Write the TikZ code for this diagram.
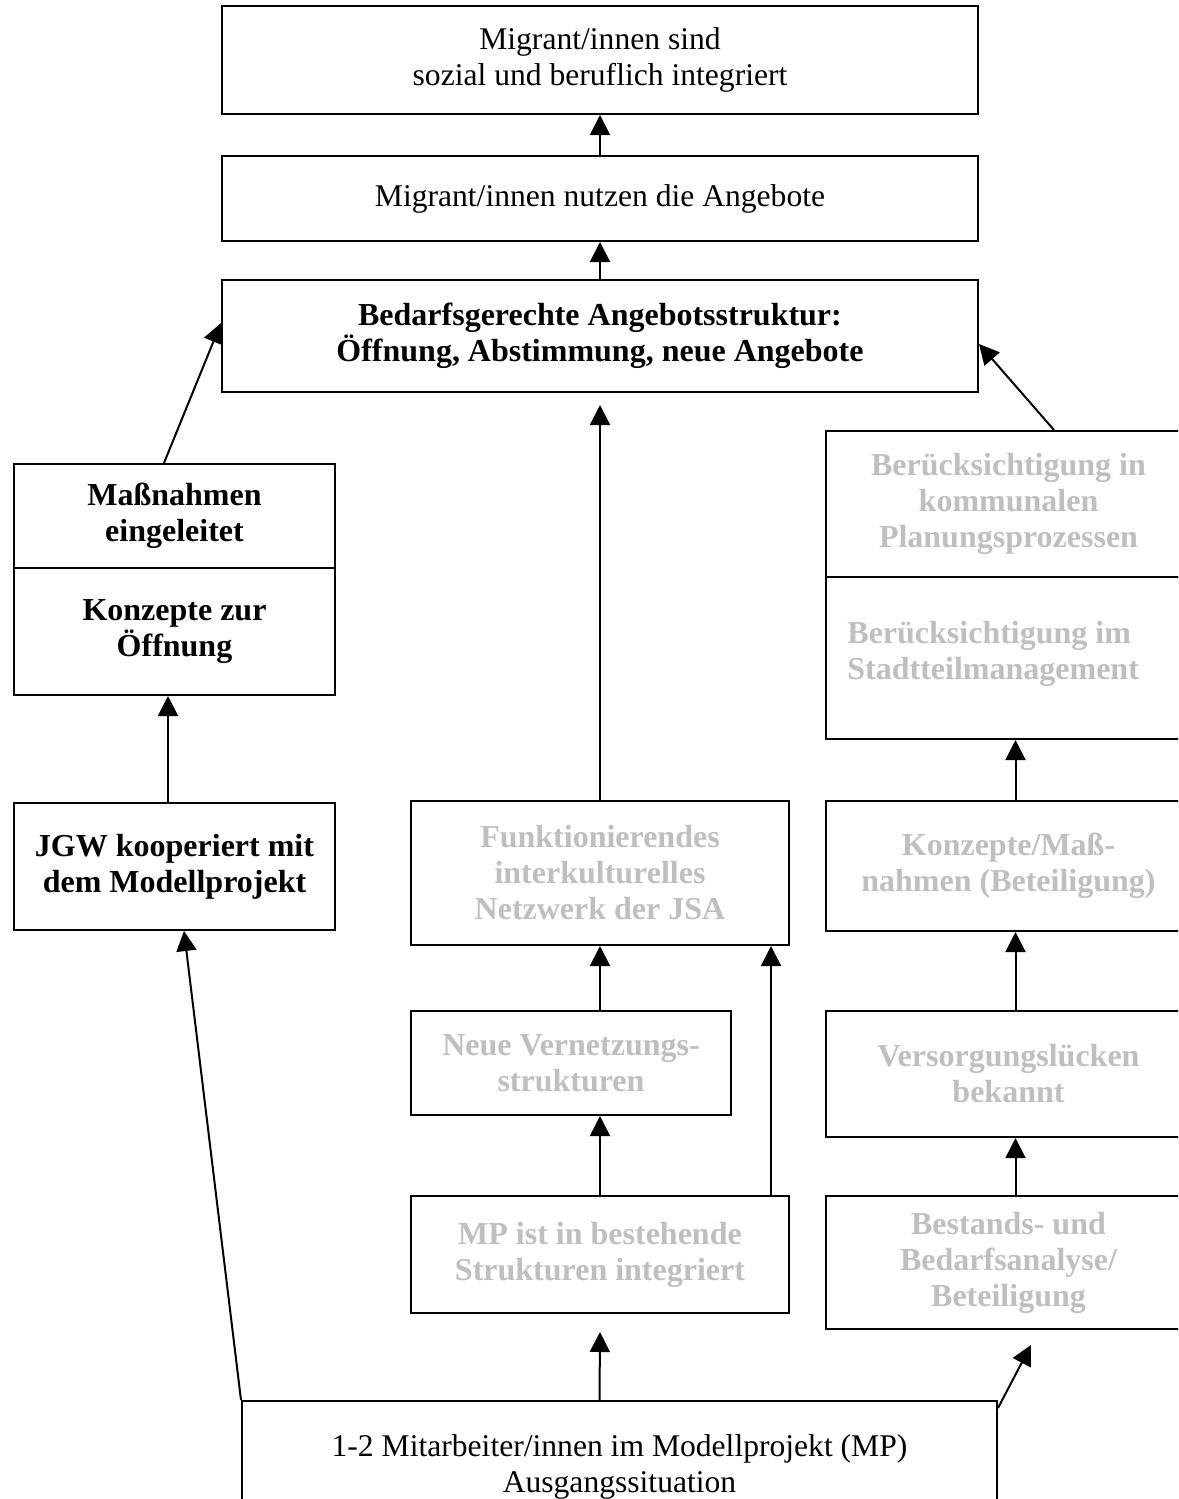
\documentclass[tikz,border=0pt]{standalone}
\usepackage{fontspec}
\setmainfont{Liberation Serif}
\usetikzlibrary{arrows.meta}
\definecolor{lightgr}{RGB}{191,191,191}
\tikzset{
  box/.style={draw, line width=1pt, anchor=north west, inner sep=2pt, align=center},
  reg/.style={font=\fontsize{15.8pt}{18pt}\selectfont},
  bld/.style={font=\fontsize{16pt}{18pt}\selectfont\bfseries},
  gry/.style={bld, text=lightgr},
  arr/.style={line width=1pt, -{Triangle[length=10pt,width=10pt]}},
}
\begin{document}
\begin{tikzpicture}[x=0.5pt,y=-0.5pt]
\useasboundingbox (0,0) rectangle (1178,1499);
\clip (0,0) rectangle (1178,1499);
% top row
\node[box,reg,minimum width=378pt,minimum height=54pt] (top) at (221,5) {Migrant/innen sind\\sozial und beruflich integriert};
\node[box,reg,minimum width=378pt,minimum height=42.5pt] (b2) at (221,155) {Migrant/innen nutzen die Angebote};
\node[box,bld,minimum width=378pt,minimum height=56pt] (b3) at (221,279) {Bedarfsgerechte Angebotsstruktur:\\Öffnung, Abstimmung, neue Angebote};
% left column
\node[box,bld,minimum width=160.5pt,minimum height=52pt] (L1a) at (13,463) {Maßnahmen\\eingeleitet};
\node[box,bld,minimum width=160.5pt,minimum height=63.5pt] (L1b) at (13,567) {Konzepte zur\\Öffnung};
\node[box,bld,minimum width=160.5pt,minimum height=63.5pt] (JGW) at (13,802) {JGW kooperiert mit\\dem Modellprojekt};
% middle column
\node[box,gry,minimum width=189pt,minimum height=72pt] (Funk) at (410,800) {Funktionierendes\\interkulturelles\\Netzwerk der JSA};
\node[box,gry,minimum width=160pt,minimum height=52pt] (Neue) at (410,1010) {Neue Vernetzungs-\\strukturen};
\node[box,gry,minimum width=189pt,minimum height=58.5pt] (MP) at (410,1195) {MP ist in bestehende\\Strukturen integriert};
% right column
\node[box,gry,minimum width=182.5pt,minimum height=73pt] (R1a) at (825,430) {Berücksichtigung in\\kommunalen\\Planungsprozessen};
\node[box,minimum width=182.5pt,minimum height=81pt] (R1b) at (825,576) {};
\node[gry,anchor=west,align=left,inner sep=0pt] (R1bt) at (847,654) {Berücksichtigung im\\Stadtteilmanagement};
\node[box,gry,minimum width=182.5pt,minimum height=65pt] (Konz) at (825,800) {Konzepte/Maß-\\nahmen (Beteiligung)};
\node[box,gry,minimum width=182.5pt,minimum height=63pt] (Vers) at (825,1010) {Versorgungslücken\\bekannt};
\node[box,gry,minimum width=182.5pt,minimum height=66.5pt] (Best) at (825,1195) {Bestands- und\\Bedarfsanalyse/\\Beteiligung};
% bottom
\node[box,reg,minimum width=377.5pt,minimum height=66pt] (bot) at (241,1400) {1-2 Mitarbeiter/innen im Modellprojekt (MP)\\Ausgangssituation};
% connectors
\draw[arr] (b2.north) -- (top.south);
\draw[arr] (b3.north) -- (b2.south);
\draw[arr] ([xshift=-5.25pt]L1a.north) -- ([yshift=6.5pt]b3.west);
\draw[arr] ([xshift=22.75pt]R1a.north) -- ([yshift=-4pt]b3.east);
\draw[arr] (Funk.north) -- ([yshift=-6pt]b3.south);
\draw[arr] ([xshift=-3.25pt]JGW.north) -- ([xshift=-3.25pt]L1b.south);
\draw[arr] (bot.north west) -- ([xshift=4.75pt]JGW.south);
\draw[arr] ([xshift=-10pt]bot.north) -- ([yshift=-9pt]MP.south);
\draw[arr] ([yshift=-4pt]bot.north east) -- ([xshift=11.25pt,yshift=-7.5pt]Best.south);
\draw[arr] (MP.north) -- (MP.north |- Neue.south);
\draw[arr] ([xshift=-9.5pt]MP.north east) -- ([xshift=-9.5pt]MP.north east |- Funk.south);
\draw[arr] (Funk.south |- Neue.north) -- (Funk.south);
\draw[arr] ([xshift=3.5pt]Best.north) -- ([xshift=3.5pt]Vers.south);
\draw[arr] ([xshift=3.5pt]Vers.north) -- ([xshift=3.5pt]Konz.south);
\draw[arr] ([xshift=3.5pt]Konz.north) -- ([xshift=3.5pt]R1b.south);
\end{tikzpicture}
\end{document}
